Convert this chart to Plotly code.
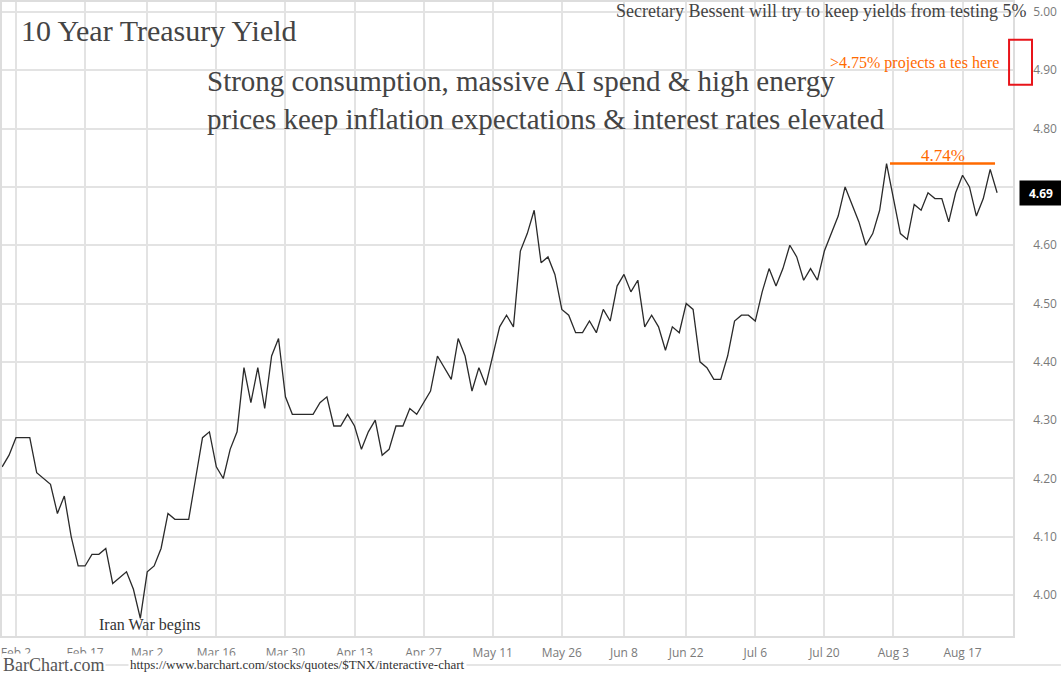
import plotly.graph_objects as go

# ---- data (one value per trading day, first point two sessions before Feb 2) ----
start_index = -2
yields = [
    4.22, 4.24, 4.27, 4.27, 4.27, 4.21, 4.20, 4.19, 4.14, 4.17,
    4.10, 4.05, 4.05, 4.07, 4.07, 4.08, 4.02, 4.03, 4.04, 4.01,
    3.96, 4.04, 4.05, 4.08, 4.14, 4.13, 4.13, 4.13, 4.20, 4.27,
    4.28, 4.22, 4.20, 4.25, 4.28, 4.39, 4.33, 4.39, 4.32, 4.41,
    4.44, 4.34, 4.31, 4.31, 4.31, 4.31, 4.33, 4.34, 4.29, 4.29,
    4.31, 4.29, 4.25, 4.28, 4.30, 4.24, 4.25, 4.29, 4.29, 4.32,
    4.31, 4.33, 4.35, 4.41, 4.39, 4.37, 4.44, 4.41, 4.35, 4.39,
    4.36, 4.41, 4.46, 4.48, 4.46, 4.59, 4.62, 4.66, 4.57, 4.58,
    4.55, 4.49, 4.48, 4.45, 4.45, 4.47, 4.45, 4.49, 4.47, 4.53,
    4.55, 4.52, 4.54, 4.46, 4.48, 4.46, 4.42, 4.46, 4.45, 4.50,
    4.49, 4.40, 4.39, 4.37, 4.37, 4.41, 4.47, 4.48, 4.48, 4.47,
    4.52, 4.56, 4.53, 4.56, 4.60, 4.58, 4.54, 4.56, 4.54, 4.59,
    4.62, 4.65, 4.70, 4.67, 4.64, 4.60, 4.62, 4.66, 4.74, 4.68,
    4.62, 4.61, 4.67, 4.66, 4.69, 4.68, 4.68, 4.64, 4.69, 4.72,
    4.70, 4.65, 4.68, 4.73, 4.69,
]
trading_day = list(range(start_index, start_index + len(yields)))

tick_days = [0, 10, 19, 29, 39, 49, 59, 69, 79, 88, 97, 107, 117, 127, 137]
tick_labels = ["Feb 2", "Feb 17", "Mar 2", "Mar 16", "Mar 30", "Apr 13", "Apr 27",
               "May 11", "May 26", "Jun 8", "Jun 22", "Jul 6", "Jul 20", "Aug 3", "Aug 17"]

y_ticks = [4.00, 4.10, 4.20, 4.30, 4.40, 4.50, 4.60, 4.70, 4.80, 4.90, 5.00]
y_tick_labels = [f"{v:.2f}" for v in y_ticks]

last_value = yields[-1]
resistance = 4.74
resistance_start, resistance_end = 126.5, 141.7

SERIF = "Liberation Serif, Times New Roman, serif"
SANS = "Open Sans, Noto Sans, sans-serif"
ORANGE = "#ff6a00"
GRID = "#e3e3e3"

fig = go.Figure()
fig.add_trace(go.Scatter(
    x=trading_day, y=yields, mode="lines",
    line=dict(color="#2a2a2a", width=1.3),
    hoverinfo="y", showlegend=False,
))

fig.update_layout(
    width=1061, height=675,
    margin=dict(l=0, r=48, t=0, b=39),
    paper_bgcolor="white", plot_bgcolor="white",
    showlegend=False,
    xaxis=dict(
        range=[-2.02, 144.3],
        tickmode="array", tickvals=tick_days, ticktext=tick_labels,
        showgrid=True, gridcolor=GRID, gridwidth=1.5,
        zeroline=False,
        showline=True, linecolor="#dddddd", linewidth=1.5, mirror=True,
        ticks="outside", ticklen=5, tickcolor="rgba(0,0,0,0)",
        tickfont=dict(family=SANS, size=12, color="#7a7a7a"),
        ticklabeloverflow="allow",
    ),
    yaxis=dict(
        side="right",
        range=[3.9299, 5.0171],
        tickmode="array", tickvals=y_ticks, ticktext=y_tick_labels,
        showgrid=True, gridcolor=GRID, gridwidth=1.5,
        zeroline=False,
        showline=True, linecolor="#dddddd", linewidth=1.5, mirror=True,
        ticks="outside", ticklen=16, tickcolor="rgba(0,0,0,0)",
        tickfont=dict(family=SANS, size=12, color="#7a7a7a"),
        ticklabeloverflow="allow",
    ),
)

# resistance line at 4.74
fig.add_shape(type="line", xref="x", yref="y",
              x0=resistance_start, x1=resistance_end, y0=resistance, y1=resistance,
              line=dict(color=ORANGE, width=2.5))

# red box near 4.90-4.95
fig.add_shape(type="rect", xref="paper", yref="paper",
              x0=0.9961, x1=1.0188, y0=0.8695, y1=0.9403,
              line=dict(color="#e8141a", width=2), fillcolor="rgba(0,0,0,0)")

# footer separator
fig.add_shape(type="line", xref="paper", yref="paper",
              x0=0, x1=1.0474, y0=-0.0456, y1=-0.0456,
              line=dict(color="#dddddd", width=1.5))

annotations = [
    dict(text="10 Year Treasury Yield", x=0.0165, y=0.955, xanchor="left", yanchor="middle",
         font=dict(family=SERIF, size=30, color="#444444")),
    dict(text="Strong consumption, massive AI spend &amp; high energy<br>"
              "prices keep inflation expectations &amp; interest rates elevated",
         x=0.2003, y=0.846, xanchor="left", yanchor="middle", align="left",
         font=dict(family=SERIF, size=29, color="#444444")),
    dict(text="Secretary Bessent will try to keep yields from testing 5%",
         x=1.0145, y=0.9858, xanchor="right", yanchor="middle",
         font=dict(family=SERIF, size=18, color="#444444")),
    dict(text="&gt;4.75% projects a tes here", x=0.9882, y=0.9045,
         xanchor="right", yanchor="middle",
         font=dict(family=SERIF, size=16, color=ORANGE)),
    dict(text=f"{resistance:.2f}%", x=0.9309, y=0.7585, xanchor="center", yanchor="middle",
         font=dict(family=SERIF, size=17, color=ORANGE)),
    dict(text="Iran War begins", x=0.1466, y=0.0173, xanchor="center", yanchor="middle",
         font=dict(family=SERIF, size=16, color="#333333")),
    dict(text="BarChart.com", x=-0.001, y=-0.0464, xanchor="left", yanchor="middle",
         bgcolor="white", font=dict(family=SERIF, size=18, color="#555555")),
    dict(text="https://www.barchart.com/stocks/quotes/$TNX/interactive-chart",
         x=0.125, y=-0.0456, xanchor="left", yanchor="middle", bgcolor="white",
         font=dict(family=SERIF, size=13, color="#333333")),
]
for a in annotations:
    a.setdefault("xref", "paper")
    a.setdefault("yref", "paper")
    a["showarrow"] = False
    fig.add_annotation(**a)

# last price tag
fig.add_annotation(text=f"<b>{last_value:.2f}</b>", xref="paper", yref="y",
                   x=1.0, y=last_value, xanchor="left", yanchor="middle", xshift=6,
                   showarrow=False, bgcolor="black", width=38, height=20, borderpad=2,
                   align="center", font=dict(family=SANS, size=12, color="white"))

fig.write_html("out.html", config={"displayModeBar": False},
               post_script="document.body.style.margin='0px';document.body.style.overflow='hidden';")
